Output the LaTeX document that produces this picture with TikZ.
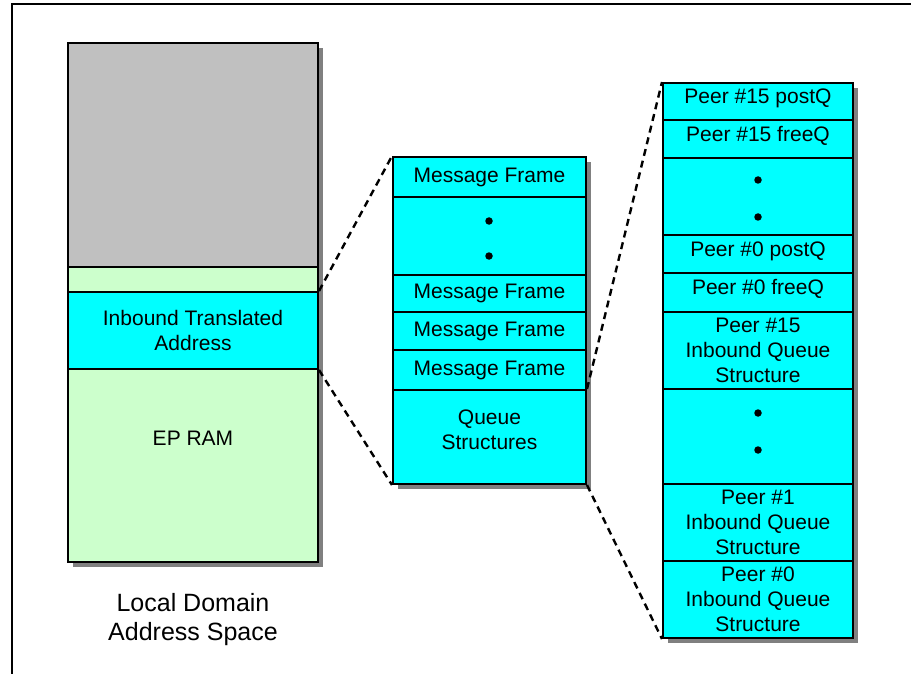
\documentclass[tikz,border=0pt]{standalone}
\usepackage{fontspec}
\setmainfont{Liberation Sans}
\usetikzlibrary{shadows}

\definecolor{cellcyan}{HTML}{00FFFF}
\definecolor{cellgray}{HTML}{C0C0C0}
\definecolor{cellgreen}{HTML}{CCFFCC}
\definecolor{shadowgray}{HTML}{808080}

\tikzset{
  cell/.style={draw=black, line width=2pt, rectangle, inner sep=0pt,
    align=center, font=\fontsize{21}{25}\selectfont},
  column/.style={rectangle, inner sep=0pt, fill=white,
    drop shadow={shadow xshift=5pt, shadow yshift=-5pt, opacity=1, fill=shadowgray}},
  celltext/.style={align=center, inner sep=0pt, font=\fontsize{21}{25}\selectfont},
  dotmark/.style={circle, fill=black, inner sep=0pt, minimum size=7.5pt},
  link/.style={line width=2.4pt, dash pattern=on 7pt off 5pt},
  frameline/.style={line width=1.6pt}
}

\begin{document}
\begin{tikzpicture}[x=1pt, y=-1pt]
  \useasboundingbox (0,0) rectangle (911,674);

  % outer frame (open towards the right and bottom)
  \draw[frameline] (12,680) -- (12,4) -- (920,4);

  % ---------- local domain address space ----------
  \node[column, minimum width=250pt, minimum height=519pt] (lcol) at (193,302.5) {};
  \node[cell, fill=cellgray,  minimum width=250pt, minimum height=224pt] (upper) at (193,155) {};
  \node[cell, fill=cellgreen, minimum width=250pt, minimum height=25pt]  (gap)   at (193,279.5) {};
  \node[cell, fill=cellcyan,  minimum width=250pt, minimum height=77pt]  (ita)   at (193,330.5) {Inbound Translated\\Address};
  \node[cell, fill=cellgreen, minimum width=250pt, minimum height=193pt] (epram) at (193,465.5) {};
  \node[celltext] (epramlbl) at (193,438) {EP RAM};
  \node[align=center, inner sep=0pt, font=\fontsize{25}{29}\selectfont] (ldas) at (193,620)
    {Local Domain\\Address Space};

  % ---------- message frames / queue structures ----------
  \node[column, minimum width=193pt, minimum height=327pt] (mcol) at (489.5,320.5) {};
  \node[cell, fill=cellcyan, minimum width=193pt, minimum height=40pt] (mf1)   at (489.5,177) {Message Frame};
  \node[cell, fill=cellcyan, minimum width=193pt, minimum height=78pt] (mdots) at (489.5,236) {};
  \node[cell, fill=cellcyan, minimum width=193pt, minimum height=37pt] (mf2)   at (489.5,293.5) {Message Frame};
  \node[cell, fill=cellcyan, minimum width=193pt, minimum height=38pt] (mf3)   at (489.5,331) {Message Frame};
  \node[cell, fill=cellcyan, minimum width=193pt, minimum height=40pt] (mf4)   at (489.5,370) {Message Frame};
  \node[cell, fill=cellcyan, minimum width=193pt, minimum height=94pt] (qs)    at (489.5,437) {};
  \node[celltext] (qslbl) at (489.5,430) {Queue\\Structures};
  \node[dotmark] (md1) at (489,221) {};
  \node[dotmark] (md2) at (489,256) {};

  % ---------- per-peer queues ----------
  \node[column, minimum width=190pt, minimum height=555pt] (rcol) at (758,360.5) {};
  \node[cell, fill=cellcyan, minimum width=190pt, minimum height=37pt] (p15post) at (758,101.5) {};
  \node[celltext] (p15postlbl) at (758,98) {Peer \#15 postQ};
  \node[cell, fill=cellcyan, minimum width=190pt, minimum height=38pt] (p15free) at (758,139) {};
  \node[celltext] (p15freelbl) at (758,136) {Peer \#15 freeQ};
  \node[cell, fill=cellcyan, minimum width=190pt, minimum height=77pt] (rdotsa)  at (758,196.5) {};
  \node[cell, fill=cellcyan, minimum width=190pt, minimum height=38pt] (p0post)  at (758,254) {};
  \node[celltext] (p0postlbl) at (758,251) {Peer \#0 postQ};
  \node[cell, fill=cellcyan, minimum width=190pt, minimum height=39pt] (p0free)  at (758,292.5) {};
  \node[celltext] (p0freelbl) at (758,289) {Peer \#0 freeQ};
  \node[cell, fill=cellcyan, minimum width=190pt, minimum height=77pt] (p15iq)   at (758,350.5) {Peer \#15\\Inbound Queue\\Structure};
  \node[cell, fill=cellcyan, minimum width=190pt, minimum height=95pt] (rdotsb)  at (758,436.5) {};
  \node[cell, fill=cellcyan, minimum width=190pt, minimum height=77pt] (p1iq)    at (758,522.5) {Peer \#1\\Inbound Queue\\Structure};
  \node[cell, fill=cellcyan, minimum width=190pt, minimum height=77pt] (p0iq)    at (758,599.5) {Peer \#0\\Inbound Queue\\Structure};
  \node[dotmark] (ra1) at (758,180) {};
  \node[dotmark] (ra2) at (758,217) {};
  \node[dotmark] (rb1) at (758,413) {};
  \node[dotmark] (rb2) at (758,450) {};

  % ---------- expansion lines ----------
  \draw[link] (ita.north east) -- (mf1.north west);
  \draw[link] (ita.south east) -- (qs.south west);
  \draw[link] (qs.north east) -- (p15post.north west);
  \draw[link] (qs.south east) -- (p0iq.south west);
\end{tikzpicture}
\end{document}
